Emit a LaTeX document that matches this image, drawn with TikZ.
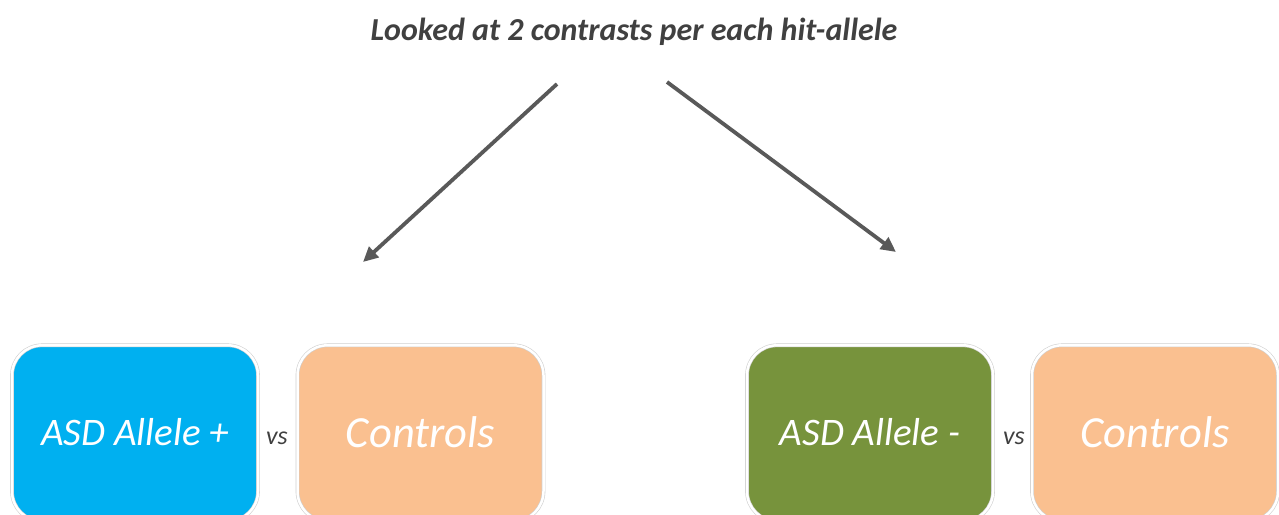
\documentclass[tikz,border=0pt]{standalone}
\usepackage{fontspec}
\setmainfont{Carlito}
\usetikzlibrary{arrows.meta}
\definecolor{txtgray}{HTML}{404040}
\definecolor{arrgray}{HTML}{595959}
\definecolor{asdblue}{HTML}{00B0F0}
\definecolor{ctrlorange}{HTML}{FAC090}
\definecolor{asdgreen}{HTML}{77933C}
\definecolor{rimgray}{HTML}{D0D0D0}
\tikzset{
  groupbox/.style={rounded corners=30pt, minimum width=246pt, minimum height=176pt,
    draw=rimgray, double=white, double distance=2.5pt, line width=0.6pt,
    text=white, font=\itshape, inner sep=0pt},
  vslabel/.style={text=txtgray, font=\itshape\fontsize{26}{30}\selectfont},
  connarrow/.style={draw=arrgray, line width=3.8pt, -{Triangle[length=15pt,width=14pt]}}
}
\begin{document}
\begin{tikzpicture}[x=1pt,y=-1pt]
\useasboundingbox (0,0) rectangle (1279,514);
\node[text=txtgray, font=\bfseries\itshape\fontsize{32}{36}\selectfont] (title) at (634,32) {Looked at 2 contrasts per each hit-allele};
\coordinate (a1s) at (557,84);
\coordinate (a1e) at (363,262);
\coordinate (a2s) at (667,82);
\coordinate (a2e) at (896,252);
\draw[connarrow] (a1s) -- (a1e);
\draw[connarrow] (a2s) -- (a2e);
\begin{scope}
\clip (0,0) rectangle (1279,514);
\node[groupbox, fill=asdblue, anchor=north] (asdp) at (135,345) {};
\node[groupbox, fill=ctrlorange, anchor=north] (ctrl1) at (420.5,345) {};
\node[groupbox, fill=asdgreen, anchor=north] (asdm) at (870,345) {};
\node[groupbox, fill=ctrlorange, anchor=north] (ctrl2) at (1155,345) {};
\end{scope}
\node[text=white, font=\itshape\fontsize{39}{44}\selectfont] (tp) at (135,432) {ASD Allele +};
\node[text=white, font=\itshape\fontsize{44.5}{50}\selectfont] (tc1) at (420.5,432) {Controls};
\node[text=white, font=\itshape\fontsize{39}{44}\selectfont] (tm) at (870,432) {ASD Allele -};
\node[text=white, font=\itshape\fontsize{44.5}{50}\selectfont] (tc2) at (1155,432) {Controls};
\node[vslabel] (vs1) at (277,438) {vs};
\node[vslabel] (vs2) at (1014,438) {vs};
\end{tikzpicture}
\end{document}
